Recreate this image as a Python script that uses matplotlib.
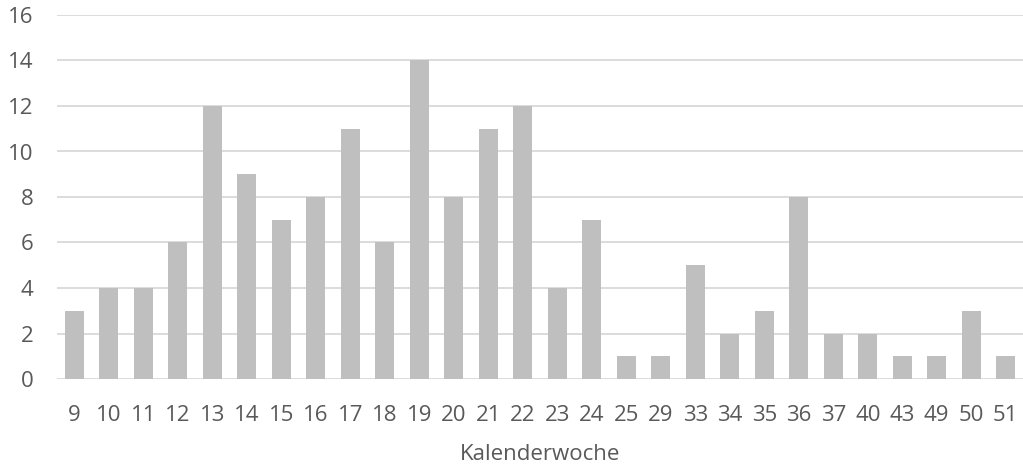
import matplotlib.pyplot as plt

weeks = ["9", "10", "11", "12", "13", "14", "15", "16", "17", "18", "19", "20",
         "21", "22", "23", "24", "25", "29", "33", "34", "35", "36", "37", "40",
         "43", "49", "50", "51"]
counts = [3, 4, 4, 6, 12, 9, 7, 8, 11, 6, 14, 8,
          11, 12, 4, 7, 1, 1, 5, 2, 3, 8, 2, 2,
          1, 1, 3, 1]

plt.rcParams["font.family"] = ["Open Sans", "DejaVu Sans"]

fig = plt.figure(figsize=(10.23, 4.73), dpi=100)
ax = fig.add_axes([57 / 1023, 94 / 473, 966 / 1023, 364 / 473])

x = range(len(weeks))
ax.bar(x, counts, width=0.54, color="#bfbfbf", zorder=3)

ax.set_xlim(-0.5, len(weeks) - 0.5)
ax.set_ylim(0, 16)
ax.set_yticks(range(0, 17, 2))
ax.set_xticks(list(x))
ax.set_xticklabels(weeks)

ax.grid(axis="y", color="#d9d9d9", linewidth=1.3, zorder=0)
for s in ax.spines.values():
    s.set_visible(False)
ax.tick_params(axis="both", length=0, labelsize=16, colors="#595959")
ax.tick_params(axis="y", pad=17)
ax.tick_params(axis="x", pad=19)
ax.set_xlabel("Kalenderwoche", fontsize=16, color="#595959", labelpad=13)

fig.savefig("out.png", dpi=100)
